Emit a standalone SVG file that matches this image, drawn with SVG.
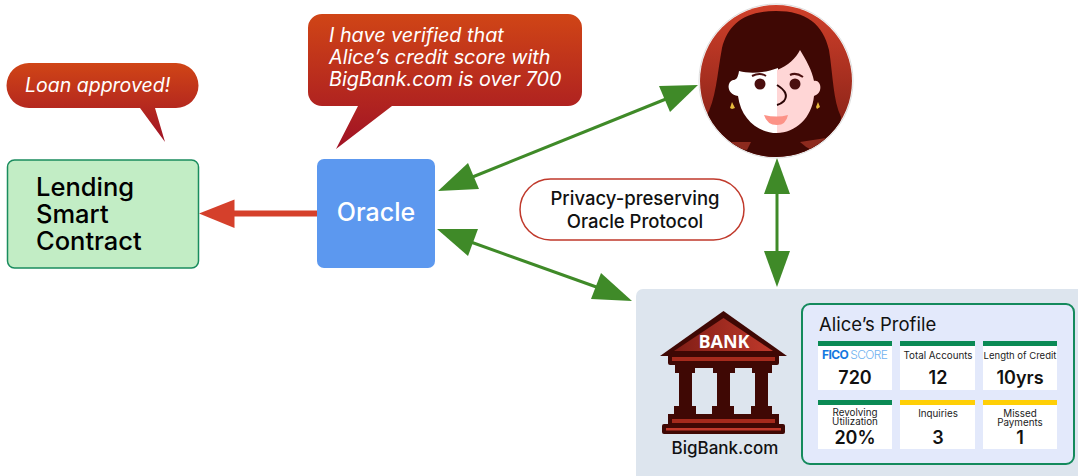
<svg xmlns="http://www.w3.org/2000/svg" width="1078" height="476" viewBox="0 0 1078 476">
<defs>
<linearGradient id="redu" gradientUnits="userSpaceOnUse" x1="0" y1="14" x2="0" y2="150"><stop offset="0" stop-color="#d04516"/><stop offset="1" stop-color="#a01225"/></linearGradient>
<linearGradient id="redl" gradientUnits="userSpaceOnUse" x1="0" y1="63" x2="0" y2="142"><stop offset="0" stop-color="#d04516"/><stop offset="1" stop-color="#a01225"/></linearGradient>
<linearGradient id="ring" x1="0" y1="0" x2="0" y2="1"><stop offset="0" stop-color="#d0402a"/><stop offset="1" stop-color="#7a1c14"/></linearGradient>
<linearGradient id="roof" x1="0" y1="0" x2="1" y2="0"><stop offset="0" stop-color="#7f1d15"/><stop offset="1" stop-color="#c0392b"/></linearGradient>
<clipPath id="disc"><circle cx="776" cy="81" r="76"/></clipPath>
</defs>
<style>
text{font-family:"Inter","Liberation Sans",sans-serif}
.w{fill:#fff;font-style:italic;font-size:19.8px}
.k{fill:#000;font-size:25.500px;font-weight:500}
.p{fill:#111;font-size:18.500px;text-anchor:middle;font-weight:500}
.card{fill:#fff}
.g{fill:#0b8a55}.y{fill:#ffcf06}
.lab{fill:#222;font-size:9.800px;text-anchor:middle}
.val{fill:#111;font-size:18px;font-weight:600;text-anchor:middle}
.dk{fill:#3f0804}
.ga{stroke:#3f8a28;stroke-width:3;fill:none}
.gh{fill:#3f8a28}
</style>
<g id="connectors">
<path d="M317 213.500H232" stroke="#d5402b" stroke-width="6" fill="none"/>
<polygon points="199,213.500 234.500,199.500 234.500,228" fill="#d5402b"/>
<path class="ga" d="M470 178L666 99"/>
<polygon class="gh" points="698,85 659,86 670,112"/>
<polygon class="gh" points="438,191 468,163 479,189"/>
<path class="ga" d="M468 241L602 289"/>
<polygon class="gh" points="437,229 478,229 468,256"/>
<polygon class="gh" points="632,301 601,273 591,299"/>
<path class="ga" d="M777 190V255"/>
<polygon class="gh" points="777,158 790,194 764,194"/>
<polygon class="gh" points="777,287 764,251 790,251"/>
</g>
<g id="loan-bubble">
<path d="M29 63H176A22.500 22.500 0 0 1 176 108H155L165 142L140 108H29A22.500 22.500 0 0 1 29 63Z" fill="url(#redl)"/>
<text class="w" x="25" y="92" style="font-size:19.500px">Loan approved!</text>
</g>
<g id="oracle-bubble">
<path d="M322 14H568A14 14 0 0 1 582 28V92A14 14 0 0 1 568 106H392L336 149L358 106H322A14 14 0 0 1 308 92V28A14 14 0 0 1 322 14Z" fill="url(#redu)"/>
<text class="w" x="329" y="42">I have verified that</text>
<text class="w" x="329" y="64">Alice’s credit score with</text>
<text class="w" x="329" y="86">BigBank.com is over 700</text>
</g>
<g id="lending">
<rect x="7.500" y="160" width="191" height="108" rx="7" fill="#c2edc5" stroke="#1a8c5e" stroke-width="1.500"/>
<text class="k" x="36" y="196">Lending</text>
<text class="k" x="36" y="223">Smart</text>
<text class="k" x="36" y="250">Contract</text>
</g>
<g id="oracle">
<rect x="317" y="159" width="118" height="109" rx="7" fill="#5c98ef"/>
<text x="376" y="221" fill="#fff" font-size="25" font-weight="500" text-anchor="middle">Oracle</text>
</g>
<g id="protocol">
<rect x="520" y="179" width="224" height="61" rx="30.500" fill="#fff" stroke="#c0392b" stroke-width="1.500"/>
<text class="p" x="635" y="205">Privacy-preserving</text>
<text class="p" x="635" y="228">Oracle Protocol</text>
</g>
<g id="alice">
<circle cx="776" cy="81" r="77" fill="#fff" stroke="#ddd" stroke-width="1"/>
<circle cx="776" cy="81" r="76" fill="url(#ring)"/>
<g clip-path="url(#disc)">
<path class="dk" d="M776 11C745 11 728 24 722 48C717 75 716 100 706 117L716 160H838L841 117C833 100 833 75 829 50C823 24 806 11 776 11Z"/>
<path d="M730 142H751L747 150Q738 150 730 142ZM800 142L826 138L812 150Q805 147 800 142Z" fill="#8c2a1e"/>
</g>
<path d="M778 68C765 73 750 74 739 71C738 78 736 80 733 80C726 82 727 95 738 96C741 119 758 133 777 133Z" fill="#fff"/>
<path d="M777 70C788 66 796 58 800 50C806 60 812 70 814 81C821 79 824 93 814 96C812 118 795 133 777 133Z" fill="#ffd6d6"/>
<circle cx="760" cy="84" r="5.500" fill="#4a0f0f"/><circle cx="795" cy="84" r="5.500" fill="#4a0f0f"/>
<path d="M752 76Q760 72 766 76M790 75Q796 72 803 77" fill="none" stroke="#4a0f0f" stroke-width="2"/>
<path d="M777 85Q790 93 784 101Q781 104 777 105" fill="none" stroke="#2a0505" stroke-width="2"/>
<path d="M764 115Q777 118 788 115Q786 125 777 125Q767 125 764 115Z" fill="#fc9287"/>
<path d="M732 102L735 108L732 109L730 108Z M818 102L820 107L817 109L816 107Z" fill="#e8b93c"/>
</g>
<g id="bigbank">
<rect x="636" y="289" width="460" height="200" rx="7" fill="#dde5ee"/>
<g id="bank-icon">
<polygon class="dk" points="723.500,311 787,356 660,356"/>
<polygon points="723.500,318 773,351 674,351" fill="url(#roof)"/>
<text x="724" y="348" fill="#fff" font-size="18" font-weight="700" text-anchor="middle" style="font-family:'Open Sans','Liberation Sans',sans-serif">BANK</text>
<rect class="dk" x="668" y="354" width="111" height="11" rx="2"/>
<rect x="672" y="357" width="103" height="4" fill="#a52a1c"/>
<rect class="dk" x="675" y="364" width="97" height="4"/>
<path class="dk" d="M675 365H695V373H692V406H696V414H674V406H679V373H675Z"/>
<path class="dk" d="M713 365H735V373H730V406H734V414H712V406H717V373H713Z"/>
<path class="dk" d="M752 365H772V373H768V406H772V414H751V406H755V373H752Z"/>
<rect class="dk" x="668" y="414" width="111" height="12"/>
<rect x="672" y="419" width="103" height="4" fill="#a52a1c"/>
<rect class="dk" x="662" y="424" width="123" height="10" rx="2"/>
<rect x="666" y="428" width="115" height="2.500" fill="#c0392b"/>
<text x="725" y="454" fill="#111" font-size="17" font-weight="500" text-anchor="middle">BigBank.com</text>
</g>
</g>
<g id="profile">
<rect x="802" y="304" width="272" height="160" rx="8" fill="#e3e9fb" stroke="#148a5c" stroke-width="2"/>
<text x="819" y="331" fill="#111" font-size="18.500">Alice’s Profile</text>
<rect class="card" x="818" y="341" width="74" height="49"/><rect class="g" x="818" y="341" width="74" height="5"/>
<text x="822" y="359" fill="#1478e0" font-size="12" font-weight="700" textLength="66">FICO <tspan font-weight="300" fill="#6fb2f0">SCORE</tspan></text>
<text class="val" x="855" y="384">720</text>
<rect class="card" x="900" y="341" width="75" height="49"/><rect class="g" x="900" y="341" width="75" height="5"/>
<text class="lab" x="938" y="359">Total Accounts</text>
<text class="val" x="938" y="384">12</text>
<rect class="card" x="983" y="341" width="74" height="49"/><rect class="g" x="983" y="341" width="74" height="5"/>
<text class="lab" x="1020" y="359" style="font-size:9.500px">Length of Credit</text>
<text class="val" x="1020" y="384">10yrs</text>
<rect class="card" x="818" y="400" width="74" height="49"/><rect class="g" x="818" y="400" width="74" height="5"/>
<text class="lab" x="855" y="416">Revolving</text><text class="lab" x="855" y="425">Utilization</text>
<text class="val" x="855" y="444">20%</text>
<rect class="card" x="900" y="400" width="75" height="49"/><rect class="y" x="900" y="400" width="75" height="5"/>
<text class="lab" x="938" y="417">Inquiries</text>
<text class="val" x="938" y="444">3</text>
<rect class="card" x="983" y="400" width="74" height="49"/><rect class="y" x="983" y="400" width="74" height="5"/>
<text class="lab" x="1020" y="417">Missed</text><text class="lab" x="1020" y="426">Payments</text>
<text class="val" x="1020" y="444">1</text>
</g>
</svg>
